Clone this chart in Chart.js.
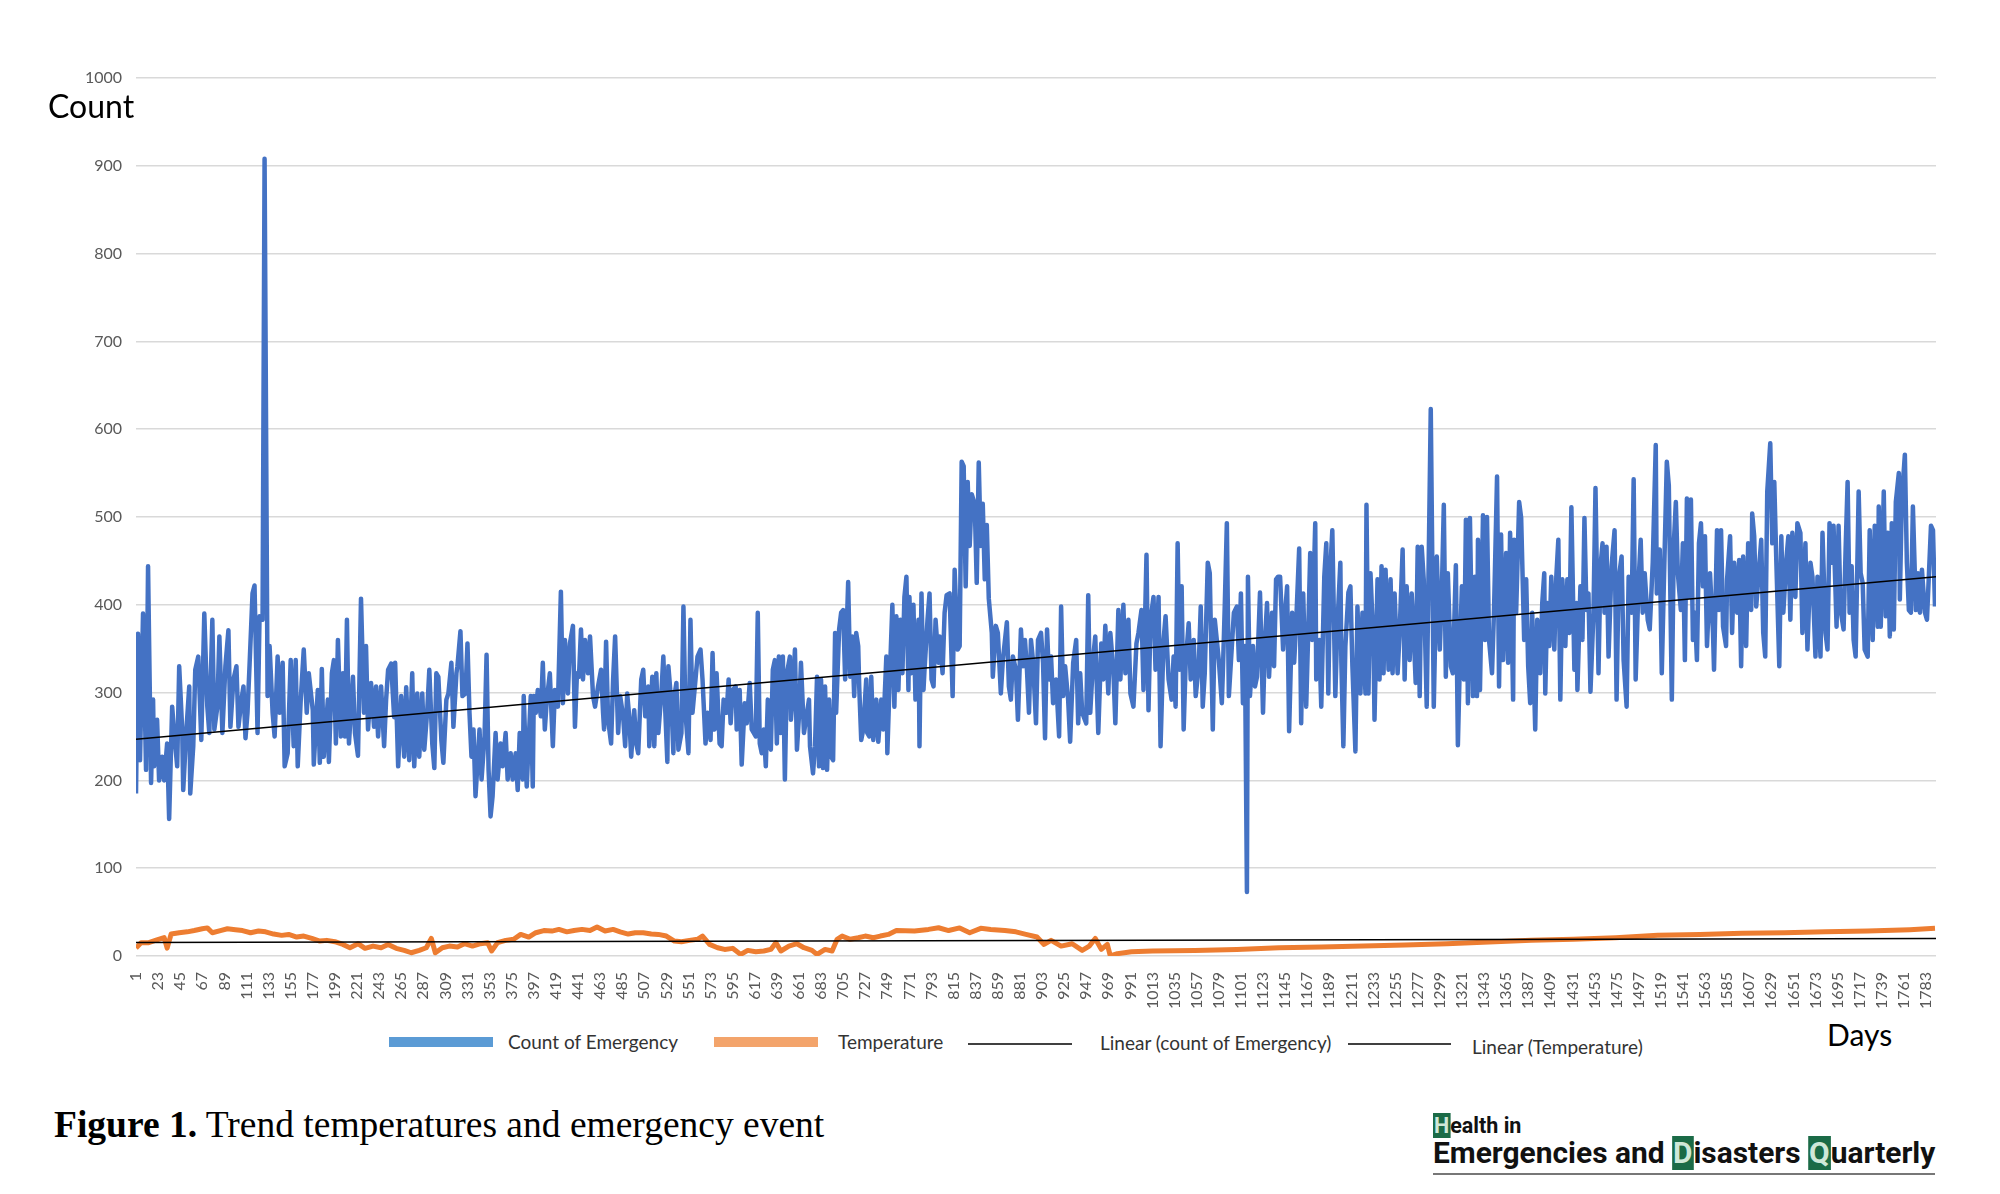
<!DOCTYPE html>
<html>
<head>
<meta charset="utf-8">
<title>Trend temperatures and emergency event</title>
<script src="https://cdn.jsdelivr.net/npm/chart.js@4.4.0/dist/chart.umd.min.js"></script>
<style>
  html, body { margin: 0; padding: 0; background: #fff; }
  body { width: 2000px; height: 1194px; position: relative; overflow: hidden; font-family: 'Lato', sans-serif; }
  #wrap { position: absolute; left: 0; top: 0; width: 2000px; height: 1016px; }
  .abs { position: absolute; line-height: 1; white-space: nowrap; }
  .leg { font-size: 19px; color: #333; }
  .sw { position: absolute; }
  #caption { font-family: 'Liberation Serif', 'Times New Roman', serif; font-size: 37.5px; color: #000; }
  .logo { font-family: 'Liberation Sans Narrow', 'Roboto', sans-serif; font-weight: bold; color: #111; transform-origin: left top; }
  .box { background: #1b6b47; color: #cfe8d8; padding: 0 1px; }
</style>
</head>
<body>
<div id="wrap"><canvas id="trendChart"></canvas></div>

<div class="abs" style="left:48px;top:90px;font-size:32px;color:#000;">Count</div>
<div class="abs" style="left:1827px;top:1019px;font-size:30px;color:#000;">Days</div>

<!-- legend -->
<div class="sw" style="left:389px;top:1037px;width:104px;height:10px;background:#5b9bd5;"></div>
<div class="abs leg" style="left:508px;top:1032px;">Count of Emergency</div>
<div class="sw" style="left:714px;top:1037px;width:104px;height:10px;background:#f3a46b;"></div>
<div class="abs leg" style="left:838px;top:1032px;">Temperature</div>
<div class="sw" style="left:968px;top:1043px;width:104px;height:2px;background:#404040;"></div>
<div class="abs leg" style="left:1100px;top:1033px;">Linear (count of Emergency)</div>
<div class="sw" style="left:1348px;top:1043px;width:103px;height:2px;background:#404040;"></div>
<div class="abs leg" style="left:1472px;top:1037px;">Linear (Temperature)</div>

<div id="caption" class="abs" style="left:54px;top:1106px;"><b>Figure 1.</b> Trend temperatures and emergency event</div>

<div id="logo1" class="abs logo" style="left:1433px;top:1115px;font-size:22px;"><span class="box">H</span>ealth in</div>
<div id="logo2" class="abs logo" style="left:1433px;top:1139px;font-size:29px;">Emergencies and <span class="box">D</span>isasters <span class="box">Q</span>uarterly</div>
<div class="sw" style="left:1433px;top:1173px;width:502px;height:2px;background:#777;"></div>

<script>
// ===== DATA =====
const tickDays = [1,23,45,67,89,111,133,155,177,199,221,243,265,287,309,331,353,375,397,419,441,463,485,507,529,551,573,595,617,639,661,683,705,727,749,771,793,815,837,859,881,903,925,947,969,991,1013,1035,1057,1079,1101,1123,1145,1167,1189,1211,1233,1255,1277,1299,1321,1343,1365,1387,1409,1431,1453,1475,1497,1519,1541,1563,1585,1607,1629,1651,1673,1695,1717,1739,1761,1783];

const countDays = [
  1,3,5,8,11,13,16,18,19,22,24,27,29,32,34,37,39,42,44,47,48,51,54,55,58,60,63,66,69,72,74,77,79,82,84,87,90,93,95,98,101,103,106,108,110,112,114,117,119,122,124,127,129,132,134,137,139,142,144,147,149,152,155,158,160,162,165,168,171,173,177,178,182,184,186,188,192,193,196,198,200,202,205,207,209,211,213,217,219,222,225,228,230,232,235,238,240,242,245,248,250,252,
  255,258,259,262,265,268,270,273,276,278,281,283,286,288,291,293,296,298,300,302,305,307,310,312,315,317,320,321,324,326,329,331,333,335,337,339,341,343,345,348,350,352,354,356,359,361,364,366,369,371,374,376,379,381,383,386,387,390,392,394,396,397,399,401,404,406,408,410,413,416,418,421,424,426,428,431,433,436,438,440,442,444,446,448,451,453,456,458,461,464,466,467,469,471,474,476,478,481,483,486,488,490,492,494,497,499,501,504,506,508,511,512,
  515,517,519,521,524,526,528,530,531,534,536,537,539,541,544,546,548,551,553,555,558,560,563,565,568,570,573,575,577,579,582,584,586,589,591,593,595,598,599,602,604,607,609,612,614,616,618,620,622,624,626,628,630,633,635,637,639,641,643,645,647,649,652,653,655,657,659,661,663,666,668,671,672,675,677,679,681,683,685,687,689,691,693,695,697,698,701,703,705,707,710,712,714,716,718,720,721,723,725,728,729,731,733,735,738,740,743,745,748,749,751,754,756,758,760,762,764,766,768,770,771,
  773,775,777,780,781,783,785,786,789,791,793,795,797,800,801,804,806,808,811,814,816,819,821,823,825,827,829,831,833,836,838,840,842,844,846,848,850,853,854,857,859,862,864,868,870,872,874,877,879,882,884,886,888,890,892,894,897,899,902,904,906,908,910,912,914,917,920,922,924,926,929,931,934,937,939,941,943,947,949,951,954,956,959,962,964,966,969,971,974,976,979,981,984,986,989,991,994,997,999,1002,1004,1007,1009,1011,1014,1016,1019,1021,1024,1026,1029,
  1032,1034,1036,1038,1040,1042,1044,1046,1049,1051,1054,1056,1059,1061,1063,1065,1068,1070,1073,1075,1077,1079,1082,1083,1085,1087,1089,1092,1094,1097,1099,1101,1103,1105,1107,1108,1110,1113,1115,1117,1120,1123,1125,1127,1129,1132,1134,1136,1138,1140,1143,1145,1147,1149,1152,1154,1156,1159,1161,1163,1166,1168,1170,1172,1175,1176,1179,1181,1184,1186,1188,1190,1192,1195,1197,1200,1201,1203,1205,1208,1210,1212,1215,1217,1220,1222,1225,1226,1228,1230,1233,1234,1237,1239,1241,1243,1245,1248,1250,1252,1254,1257,1259,1262,1264,1266,1269,1271,1273,1275,1277,1279,1281,1283,1286,1290,
  1293,1296,1299,1301,1303,1305,1307,1310,1312,1315,1317,1320,1321,1323,1325,1327,1329,1332,1334,1336,1337,1339,1342,1344,1346,1348,1351,1353,1356,1358,1360,1362,1365,1367,1369,1372,1373,1375,1378,1380,1383,1385,1387,1389,1391,1394,1396,1399,1401,1403,1404,1406,1408,1410,1413,1415,1417,1419,1421,1424,1426,1428,1430,1433,1435,1436,1439,1441,1443,1445,1447,1449,1452,1454,1457,1459,1461,1463,1465,1467,1470,1473,1475,1477,1480,1482,1485,1487,1490,1492,1494,1497,1499,1501,1503,1506,1508,1511,1514,1515,1518,1520,1522,1525,1527,1530,1532,1534,1536,1539,1541,1543,1545,1547,
  1549,1551,1553,1555,1557,1559,1561,1563,1565,1568,1571,1572,1575,1577,1579,1581,1584,1585,1588,1590,1592,1595,1597,1599,1601,1604,1606,1609,1610,1612,1614,1617,1619,1621,1623,1625,1628,1630,1632,1634,1637,1639,1641,1644,1646,1648,1650,1653,1655,1658,1660,1663,1665,1668,1670,1673,1675,1678,1680,1683,1685,1687,1689,1691,1694,1696,1698,1701,1703,1705,1707,1709,1711,1713,1716,1718,1720,1722,1725,1727,1730,1732,1735,1736,1738,1741,1743,1745,1747,1749,1751,1753,1756,1757,1759,1762,1764,1766,1768,1770,1773,1775,1777,1779,1782,1784,1786,1788,1790,1792
];
const countValues = [
  185,367,223,390,212,444,197,292,216,269,200,227,200,242,156,284,254,216,330,258,189,254,307,185,239,326,341,246,390,284,254,383,258,284,364,254,330,371,261,315,330,261,292,307,248,277,330,413,422,254,387,383,908,296,353,277,250,341,277,334,216,231,337,239,337,216,292,349,277,322,280,218,303,220,327,227,292,221,322,337,242,360,250,322,250,383,242,318,254,228,407,277,353,258,311,261,307,250,307,239,292,326,
  333,272,334,216,296,227,306,223,322,216,299,227,299,235,280,326,241,214,322,318,246,220,292,299,334,261,322,330,370,296,299,356,277,227,258,182,220,258,201,250,343,212,159,182,254,201,242,216,254,201,231,201,231,189,254,201,296,193,246,296,193,296,277,303,273,334,258,292,322,239,303,284,415,288,360,299,356,376,261,322,318,372,315,360,322,364,296,284,307,326,277,258,358,269,242,315,364,254,296,273,239,299,273,227,280,242,231,315,326,273,307,239,
  318,239,322,254,299,341,277,221,330,288,231,296,311,235,254,398,277,231,383,277,315,341,349,315,242,277,246,345,258,322,242,239,292,277,315,265,303,307,258,303,218,288,265,311,258,254,250,391,242,231,258,216,292,235,326,337,242,341,254,341,201,322,341,269,299,349,235,273,334,254,269,292,239,208,239,318,216,315,214,307,212,292,227,223,368,277,372,391,394,315,426,318,364,296,368,353,307,246,258,315,254,250,318,246,292,244,292,258,341,231,303,400,284,387,303,383,322,409,432,303,409,
  322,400,292,383,239,413,303,326,383,413,315,307,383,334,364,322,391,411,413,296,440,349,353,563,558,421,540,467,526,515,425,562,467,515,429,491,407,368,318,376,368,299,337,380,307,292,341,326,269,372,330,360,326,277,360,337,265,360,368,334,248,372,315,341,288,315,250,398,296,330,292,244,334,360,265,322,277,265,411,277,341,364,254,356,315,376,299,368,326,265,394,315,400,322,383,299,284,356,368,394,303,457,280,383,409,326,409,239,360,387,315,
  292,341,284,470,326,421,258,334,379,315,360,296,330,398,284,322,448,436,258,383,360,337,288,322,402,493,296,353,391,398,337,413,288,353,73,432,296,353,307,318,414,277,360,402,318,391,330,429,432,432,349,391,421,256,391,334,379,464,265,413,284,368,459,360,493,315,360,284,432,470,299,440,485,296,375,448,334,239,353,414,421,330,233,398,299,391,299,514,299,436,353,269,429,315,444,322,440,326,429,322,413,322,368,463,315,421,337,413,368,311,466,296,466,429,284,623,
  284,455,349,413,514,318,436,330,322,445,240,383,421,315,497,288,499,296,432,296,474,303,502,360,500,360,322,394,546,307,480,337,459,334,482,292,474,391,517,499,360,429,330,288,391,258,383,322,402,436,299,402,353,432,349,432,474,292,429,353,429,368,511,326,402,303,421,360,499,394,413,301,391,533,322,444,470,391,466,341,444,485,292,429,455,337,284,432,391,543,315,429,474,391,436,383,372,448,582,413,463,322,421,563,536,292,470,517,436,394,470,337,521,409,
  520,360,391,337,470,493,421,478,353,436,368,326,485,394,485,375,353,429,478,368,448,391,451,330,455,353,470,394,504,478,398,444,474,368,341,529,584,470,540,451,330,478,391,451,478,383,482,409,493,482,368,470,349,448,432,341,432,341,482,368,349,493,448,490,375,490,394,372,463,540,391,444,360,341,529,436,425,349,341,485,360,490,375,512,375,529,387,482,364,493,372,517,550,406,521,571,448,394,391,512,394,436,391,440,391,383,436,490,485,398
];

const tempDays = [1,6,13,21,29,32,36,44,52,59,67,72,77,85,92,100,107,115,123,130,138,146,153,161,168,176,184,191,199,207,214,222,229,237,245,252,260,268,275,283,290,295,299,306,313,321,328,336,344,351,355,361,369,377,384,392,399,407,415,422,430,437,445,453,460,468,476,483,491,498,506,514,521,529,537,544,552,560,565,572,580,587,595,603,610,618,626,633,638,643,651,659,666,674,679,687,694,699,704,712,720,727,735,742,750,758,776,790,800,810,821,831,842,852,866,877,887,898,905,912,922,933,943,950,956,962,968,971,978,992,1013,1055,1097,1139,1181,1223,1264,1306,1348,1390,1432,1474,1516,1558,1600,1642,1683,1725,1767,1792];
const tempValues = [9,15,15,18,21,9,25,26.5,27.5,29,31,32,26.5,29,31,30,29,26.5,28.4,27.5,25,23.5,24.6,21.6,22.7,20,17,17.8,16.3,13.2,9.4,14,8.7,11.3,9.4,13.2,8.7,6.4,3.7,6.4,9.4,20,3.7,9.4,11.3,10.2,14,11.3,14,15.2,5.7,15.2,17.8,19,24.6,21.6,26.5,29,28.4,30.3,27.5,29,30.3,29,33,28.4,30.3,27.5,25,26.5,26.5,25,24.6,22.7,17,16.3,17.8,19,22.7,13.2,9.4,7.5,8.7,1.8,6.4,4.9,5.7,7.5,15.2,5.7,11.3,14,9.4,6.4,1.8,7.5,5.7,19,22.7,19,20.8,22.7,20.8,22.7,24.6,29,28.4,30.3,32.2,29,32,26.5,31.5,30.3,29,27.5,24.6,21.6,13.2,17.8,11.3,14,6.4,11.3,20,7.5,13.2,0,2.6,4.9,5.7,6.4,7.5,9.4,10.2,11.3,12.5,14,16,17.8,19,20.8,23.5,24.6,25.8,26.5,27.5,28.4,30,31.5];

// linear trend lines (end points)
const trendDays = [1, 1793];
const countTrend = [247, 432];
const tempTrend = [15.5, 19.8];

const yTicks = { min: 0, max: 1000, step: 100 };

// ===== BUILD POINTS =====
const toPoints = (xs, ys) => xs.map((x, i) => ({ x: x, y: ys[i] }));

Chart.defaults.font.family = "'Lato', sans-serif";
Chart.defaults.color = '#595959';

const ctx = document.getElementById('trendChart').getContext('2d');

new Chart(ctx, {
  type: 'line',
  data: {
    datasets: [
      {
        label: 'Linear (count of Emergency)',
        data: toPoints(trendDays, countTrend),
        borderColor: '#000',
        borderWidth: 1.5,
        pointRadius: 0,
        order: 0
      },
      {
        label: 'Linear (Temperature)',
        data: toPoints(trendDays, tempTrend),
        borderColor: '#000',
        borderWidth: 1.5,
        pointRadius: 0,
        order: 0
      },
      {
        label: 'Count of Emergency',
        data: toPoints(countDays, countValues),
        borderColor: '#4472c4',
        borderWidth: 4.5,
        pointRadius: 0,
        borderJoinStyle: 'round',
        order: 2
      },
      {
        label: 'Temperature',
        data: toPoints(tempDays, tempValues),
        borderColor: '#ed7d31',
        borderWidth: 5,
        pointRadius: 0,
        borderJoinStyle: 'round',
        order: 1
      }
    ]
  },
  options: {
    responsive: true,
    maintainAspectRatio: false,
    animation: false,
    events: [],
    layout: { padding: { top: 78, right: 64, left: 0, bottom: 0 } },
    plugins: {
      legend: { display: false },
      tooltip: { enabled: false }
    },
    scales: {
      x: {
        type: 'linear',
        min: 1,
        max: 1793,
        grid: { display: false },
        border: { display: false },
        afterBuildTicks: function(scale) {
          scale.ticks = tickDays.map(v => ({ value: v }));
        },
        afterFit: function(scale) {
          scale.height = 60;
        },
        ticks: {
          autoSkip: false,
          minRotation: 90,
          maxRotation: 90,
          padding: 8,
          color: '#595959',
          font: { size: 16 },
          callback: function(value) {
            return String(value);
          }
        }
      },
      y: {
        min: yTicks.min,
        max: yTicks.max,
        grid: { color: '#d9d9d9', lineWidth: 1.5, drawTicks: false },
        border: { display: false },
        afterFit: function(scale) {
          scale.width = 136;
        },
        ticks: {
          stepSize: yTicks.step,
          padding: 14,
          color: '#595959',
          font: { size: 16 },
          callback: function(value) {
            return String(value);
          }
        }
      }
    }
  }
});

// fit the journal logo lines to the rule underneath
['logo1', 'logo2'].forEach(function(id) {
  const el = document.getElementById(id);
  const target = id === 'logo1' ? 88 : 502;
  el.style.transform = 'scaleX(' + (target / el.offsetWidth) + ')';
});
</script>
</body>
</html>
